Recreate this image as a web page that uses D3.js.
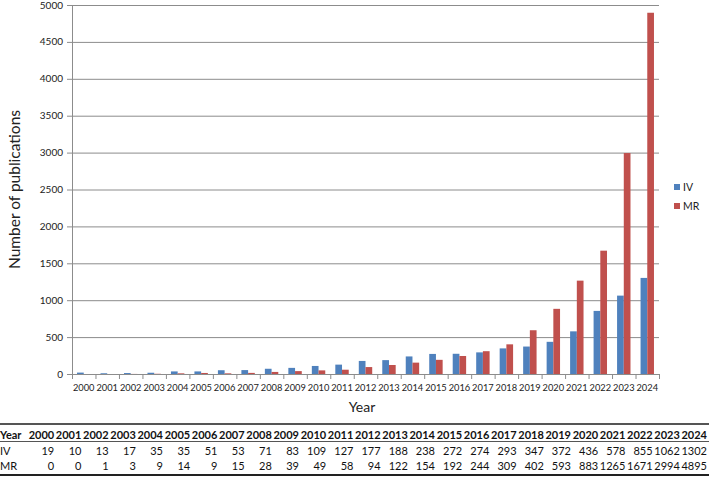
<!DOCTYPE html>
<html>
<head>
<meta charset="utf-8">
<script src="https://cdn.jsdelivr.net/npm/d3@7"></script>
<style>
body { margin: 0; background: #fff; }
svg { display: block; font-family: Lato, "Open Sans", sans-serif; }
</style>
</head>
<body>
<div id="chart"></div>
<script>
var years = ["2000","2001","2002","2003","2004","2005","2006","2007","2008","2009","2010","2011","2012",
             "2013","2014","2015","2016","2017","2018","2019","2020","2021","2022","2023","2024"];
var ivValues = [19,10,13,17,35,35,51,53,71,83,109,127,177,188,238,272,274,293,347,372,436,578,855,1062,1302];
var mrValues = [0,0,1,3,9,14,9,15,28,39,49,58,94,122,154,192,244,309,402,593,883,1265,1671,2994,4895];
var seriesNames = ["IV","MR"];
var colors = ["#4f81bd","#c0504d"];
var yTicks = [0,500,1000,1500,2000,2500,3000,3500,4000,4500,5000];

var svg = d3.select("#chart").append("svg")
    .attr("width", 709)
    .attr("height", 477);

var margin = {left: 72, right: 50, top: 5},
    plotBottom = 374,
    plotRight = 659;

var x = d3.scaleBand().domain(years).range([margin.left, plotRight]);
var x1 = d3.scaleBand().domain(seriesNames).range([0, x.bandwidth()]).paddingInner(0).paddingOuter(0.75);
var y = d3.scaleLinear().domain([0, 5000]).range([plotBottom, margin.top]);

// gridlines
svg.append("g")
  .selectAll("line")
  .data(yTicks)
  .enter().append("line")
    .attr("x1", margin.left - 5)
    .attr("x2", plotRight)
    .attr("y1", function(d) { return y(d) + 0.5; })
    .attr("y2", function(d) { return y(d) + 0.5; })
    .attr("stroke", "#8c8c8c")
    .attr("stroke-width", 1);

// y labels
svg.append("g")
  .selectAll("text")
  .data(yTicks)
  .enter().append("text")
    .attr("x", margin.left - 9)
    .attr("y", function(d) { return y(d) + 3.5; })
    .attr("text-anchor", "end")
    .attr("font-size", 10)
    .attr("fill", "#222")
    .text(function(d) { return d; });

// bars
var data = years.map(function(yr, i) { return {year: yr, vals: [ivValues[i], mrValues[i]]}; });

var groups = svg.append("g").selectAll("g")
    .data(data)
  .enter().append("g")
    .attr("transform", function(d) { return "translate(" + x(d.year) + ",0)"; });

groups.selectAll("rect")
    .data(function(d) { return d.vals.map(function(v, i) { return {name: seriesNames[i], value: v, i: i}; }); })
  .enter().append("rect")
    .attr("x", function(d) { return x1(d.name); })
    .attr("width", x1.bandwidth())
    .attr("y", function(d) { return y(d.value); })
    .attr("height", function(d) { return plotBottom - y(d.value); })
    .attr("fill", function(d) { return colors[d.i]; });

// x axis
var xAxis = svg.append("g");
xAxis.append("line")
    .attr("x1", margin.left).attr("x2", plotRight)
    .attr("y1", plotBottom + 0.5).attr("y2", plotBottom + 0.5)
    .attr("stroke", "#8c8c8c");
xAxis.selectAll("line.tick")
    .data(years.concat(["end"]))
  .enter().append("line")
    .attr("class", "tick")
    .attr("x1", function(d, i) { return margin.left + i * x.step() + 0.5; })
    .attr("x2", function(d, i) { return margin.left + i * x.step() + 0.5; })
    .attr("y1", plotBottom).attr("y2", plotBottom + 5)
    .attr("stroke", "#8c8c8c");
xAxis.selectAll("text")
    .data(years)
  .enter().append("text")
    .attr("x", function(d) { return x(d) + x.bandwidth() / 2; })
    .attr("y", plotBottom + 17)
    .attr("text-anchor", "middle")
    .attr("font-size", 9.3)
    .attr("fill", "#222")
    .text(function(d) { return d; });

// y axis line
svg.append("line")
    .attr("x1", margin.left + 0.5).attr("x2", margin.left + 0.5)
    .attr("y1", margin.top).attr("y2", plotBottom + 5)
    .attr("stroke", "#8c8c8c");

// axis titles
svg.append("text")
    .attr("transform", "translate(20," + ((plotBottom + margin.top) / 2) + ") rotate(-90)")
    .attr("text-anchor", "middle")
    .attr("font-size", 15.5)
    .attr("fill", "#222")
    .text("Number of publications");

svg.append("text")
    .attr("x", 362)
    .attr("y", 412)
    .attr("text-anchor", "middle")
    .attr("font-size", 14)
    .attr("fill", "#222")
    .text("Year");

// legend
var legend = svg.append("g").selectAll("g")
    .data(seriesNames)
  .enter().append("g")
    .attr("transform", function(d, i) { return "translate(674," + (184 + i * 19) + ")"; });
legend.append("rect")
    .attr("width", 6).attr("height", 6)
    .attr("fill", function(d, i) { return colors[i]; });
legend.append("text")
    .attr("x", 9).attr("y", 7)
    .attr("font-size", 10.5)
    .attr("fill", "#222")
    .text(function(d) { return d; });

// table below the chart
var tx = d3.scaleBand().domain(years).range([28, 708]);
var table = svg.append("g");

table.append("rect").attr("x", 0).attr("y", 423).attr("width", 709).attr("height", 2).attr("fill", "#555");
table.append("rect").attr("x", 0).attr("y", 441).attr("width", 709).attr("height", 1).attr("fill", "#555");
table.append("rect").attr("x", 0).attr("y", 474).attr("width", 709).attr("height", 2).attr("fill", "#222");

var rows = [
  {label: "Year", vals: years, bold: true, y: 439},
  {label: "IV", vals: ivValues, bold: false, y: 455},
  {label: "MR", vals: mrValues, bold: false, y: 470}
];

rows.forEach(function(r) {
  table.append("text")
      .attr("x", 0)
      .attr("y", r.y)
      .attr("font-size", 11)
      .attr("font-weight", r.bold ? "bold" : "normal")
      .attr("fill", "#111")
      .text(r.label);
  table.append("g").selectAll("text")
      .data(r.vals)
    .enter().append("text")
      .attr("x", function(d, i) { return tx(years[i]) + tx.bandwidth() - 1; })
      .attr("y", r.y)
      .attr("text-anchor", "end")
      .attr("font-size", 11)
      .attr("font-weight", r.bold ? "bold" : "normal")
      .attr("fill", "#111")
      .text(function(d) { return d; });
});
</script>
</body>
</html>
